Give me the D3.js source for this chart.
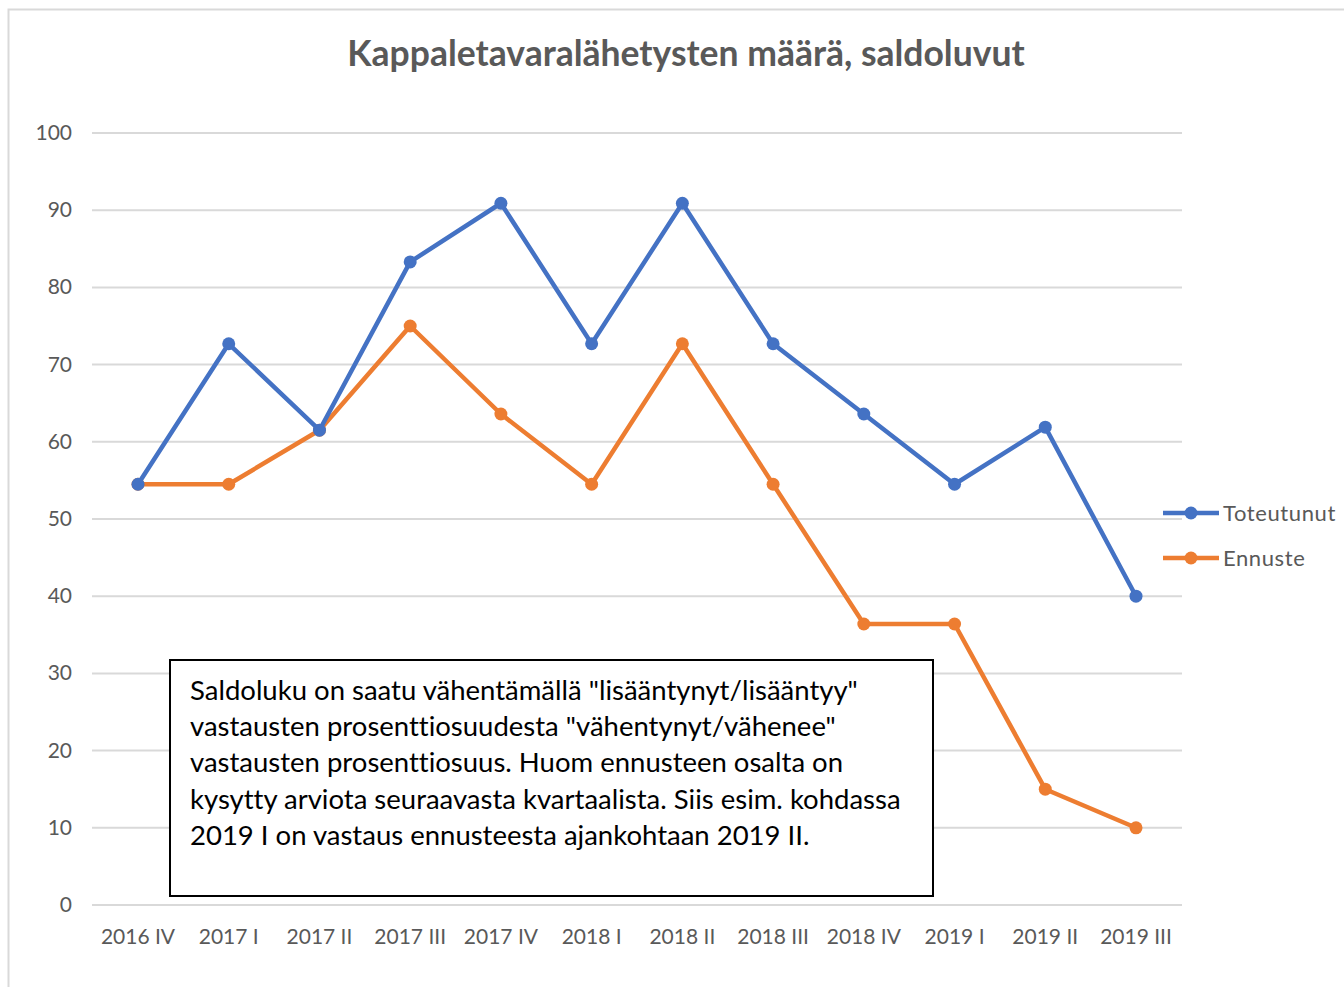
<!DOCTYPE html>
<html lang="fi">
<head>
<script src="https://d3js.org/d3.v7.min.js"></script>
<style>
  body { margin: 0; background: #fff; }
  text { font-family: Lato, "Open Sans", sans-serif; font-variant-ligatures: none; }
  .grid line { stroke: #d9d9d9; stroke-width: 2px; }
  .tick-label { fill: #595959; font-size: 21px; }
</style>
</head>
<body>
<svg id="chart" width="1344" height="987"></svg>
<script>
const categories = ["2016 IV", "2017 I", "2017 II", "2017 III", "2017 IV", "2018 I",
                    "2018 II", "2018 III", "2018 IV", "2019 I", "2019 II", "2019 III"];
const toteutunut = [54.5, 72.7, 61.5, 83.3, 90.9, 72.7, 90.9, 72.7, 63.6, 54.5, 61.9, 40];
const ennuste    = [54.5, 54.5, 61.5, 75.0, 63.6, 54.5, 72.7, 54.5, 36.4, 36.4, 15.0, 10];
const yTicks = [0, 10, 20, 30, 40, 50, 60, 70, 80, 90, 100];
const seriesNames = ["Toteutunut", "Ennuste"];
const seriesColors = ["#4472C4", "#ED7D31"];
const noteLines = [
  "Saldoluku on saatu vähentämällä \"lisääntynyt/lisääntyy\"",
  "vastausten prosenttiosuudesta \"vähentynyt/vähenee\"",
  "vastausten prosenttiosuus. Huom ennusteen osalta on",
  "kysytty arviota seuraavasta kvartaalista. Siis esim. kohdassa",
  "2019 I on vastaus ennusteesta ajankohtaan 2019 II."
];

const svg = d3.select("#chart");

// chart area border
svg.append("rect")
   .attr("x", 8.5).attr("y", 9.5)
   .attr("width", 1400).attr("height", 1000)
   .attr("fill", "none").attr("stroke", "#d9d9d9").attr("stroke-width", 2);

svg.append("text")
   .attr("x", 686).attr("y", 66)
   .attr("text-anchor", "middle")
   .attr("font-size", 35.5).attr("font-weight", "bold")
   .attr("fill", "#595959")
   .text("Kappaletavaralähetysten määrä, saldoluvut");

const x = d3.scalePoint().domain(categories).range([138, 1136]);
const y = d3.scaleLinear().domain([0, 100]).range([905, 133]);

// gridlines
const grid = svg.append("g").attr("class", "grid");
grid.selectAll("line").data(yTicks).join("line")
    .attr("x1", 92).attr("x2", 1182)
    .attr("y1", d => y(d)).attr("y2", d => y(d));

svg.append("g").selectAll("text").data(yTicks).join("text")
   .attr("class", "tick-label")
   .attr("x", 72).attr("y", d => y(d) + 7)
   .attr("text-anchor", "end")
   .text(d => d);

svg.append("g").selectAll("text").data(categories).join("text")
   .attr("class", "tick-label")
   .attr("x", d => x(d)).attr("y", 944)
   .attr("text-anchor", "middle")
   .text(d => d);

const series = [toteutunut, ennuste];
const line = d3.line().x((d, i) => x(categories[i])).y(d => y(d));

// orange drawn first so blue sits on top
series.slice().reverse().forEach((vals, ri) => {
  const k = series.length - 1 - ri;
  const g = svg.append("g");
  g.append("path").datum(vals)
   .attr("d", line)
   .attr("fill", "none")
   .attr("stroke", seriesColors[k])
   .attr("stroke-width", 4.5)
   .attr("stroke-linejoin", "round");
  g.selectAll("circle").data(vals).join("circle")
   .attr("cx", (d, i) => x(categories[i]))
   .attr("cy", d => y(d))
   .attr("r", 6.5)
   .attr("fill", seriesColors[k]);
});

// legend
const legend = svg.append("g");
seriesNames.forEach((name, i) => {
  const ly = 513 + i * 45;
  legend.append("line")
        .attr("x1", 1163).attr("x2", 1219).attr("y1", ly).attr("y2", ly)
        .attr("stroke", seriesColors[i]).attr("stroke-width", 4.5);
  legend.append("circle").attr("cx", 1191).attr("cy", ly).attr("r", 6.5)
        .attr("fill", seriesColors[i]);
  legend.append("text")
        .attr("x", 1223).attr("y", ly + 8)
        .attr("font-size", 22).attr("letter-spacing", 0.6).attr("fill", "#595959")
        .text(name);
});

// note box
const note = svg.append("g");
note.append("rect")
    .attr("x", 170).attr("y", 660).attr("width", 763).attr("height", 236)
    .attr("fill", "#fff").attr("stroke", "#000").attr("stroke-width", 2);
note.selectAll("text").data(noteLines).join("text")
    .attr("x", 190).attr("y", (d, i) => 700 + i * 36.2)
    .attr("font-size", 27.5).attr("fill", "#000")
    .text(d => d);
</script>
</body>
</html>
